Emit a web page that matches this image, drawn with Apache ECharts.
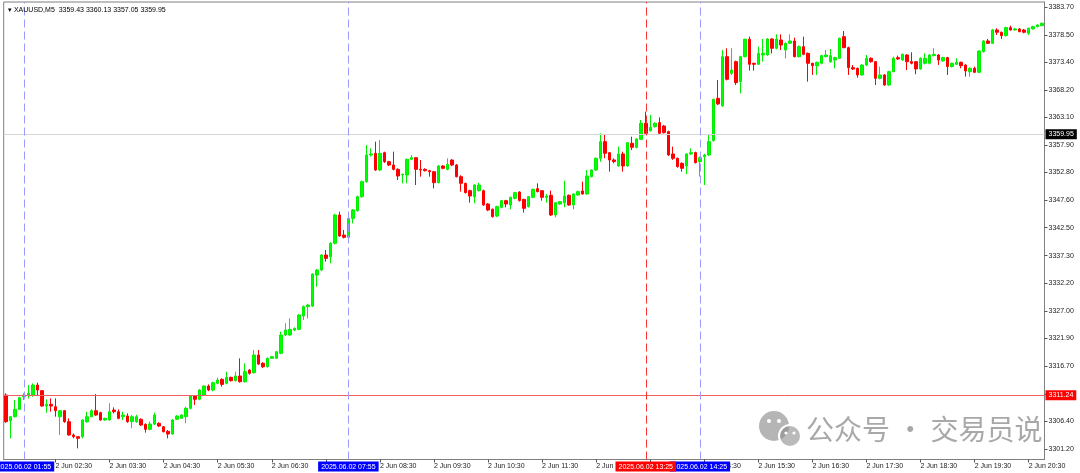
<!DOCTYPE html>
<html><head><meta charset="utf-8">
<script src="https://cdn.jsdelivr.net/npm/echarts@6/dist/echarts.min.js"></script>
<style>html,body{margin:0;padding:0;background:#fff}#c{width:1080px;height:473px}</style>
</head><body><div id="c"></div>
<script>
const startMinutes = 95; // 01:35
const candleCount = 231;
const opens = [
3311.28,3306.50,3307.24,3308.61,3310.97,3311.15,3311.28,3313.15,3312.10,3309.23,
3309.54,3309.10,3307.24,3308.36,3306.31,3303.82,3303.51,3303.51,3306.31,3307.24,
3308.36,3307.99,3306.62,3306.62,3308.48,3308.17,3307.24,3307.37,3306.31,3306.31,
3306.75,3305.81,3304.88,3305.87,3306.00,3305.37,3304.50,3304.00,3306.75,3306.93,
3307.24,3308.80,3311.10,3310.48,3311.28,3312.96,3312.22,3313.46,3314.21,3313.46,
3314.58,3313.96,3314.83,3313.77,3315.95,3315.45,3318.75,3317.20,3316.57,3318.13,
3318.13,3319.06,3322.48,3322.48,3323.41,3323.54,3326.03,3327.77,3327.89,3333.68,
3334.61,3337.41,3337.10,3339.59,3344.88,3341.14,3340.71,3344.25,3345.69,3348.30,
3351.10,3356.07,3356.39,3353.27,3356.51,3354.83,3354.21,3353.40,3352.34,3352.34,
3355.27,3355.58,3353.40,3353.40,3353.15,3352.96,3350.91,3354.02,3353.40,3355.14,
3354.21,3352.03,3350.79,3349.42,3348.30,3349.42,3349.42,3346.93,3345.94,3344.69,
3346.31,3347.56,3346.75,3347.99,3349.17,3347.80,3346.44,3348.18,3349.79,3349.42,
3348.18,3348.55,3344.88,3346.93,3347.18,3348.55,3346.75,3348.61,3349.36,3348.80,
3352.03,3353.28,3355.46,3358.57,3356.51,3355.15,3354.03,3356.27,3354.03,3358.26,
3357.51,3359.00,3361.99,3360.62,3361.37,3362.12,3361.49,3360.44,3356.27,3355.46,
3354.52,3354.03,3356.27,3356.52,3354.84,3355.77,3356.08,3358.76,3366.66,3365.23,
3374.43,3371.32,3373.50,3369.77,3374.43,3377.67,3373.19,3373.00,3374.74,3374.74,
3377.73,3375.99,3377.54,3375.67,3376.92,3377.35,3374.43,3376.30,3375.05,3373.19,
3372.75,3373.19,3374.43,3373.50,3373.81,3374.12,3378.16,3376.11,3372.38,3372.25,
3371.01,3372.87,3374.12,3373.50,3370.39,3371.01,3369.14,3371.63,3374.25,3373.81,
3374.74,3373.50,3373.50,3372.13,3373.19,3373.19,3374.62,3374.74,3373.63,3374.25,
3372.57,3373.00,3373.38,3372.88,3371.63,3372.26,3371.51,3375.37,3377.36,3376.92,
3379.41,3378.98,3378.35,3379.85,3379.41,3379.60,3379.41,3378.79,3379.60,3380.03,
3380.22];
const highs = [
3311.60,3307.30,3310.35,3310.97,3311.60,3313.15,3313.46,3313.60,3312.22,3310.47,
3310.66,3310.66,3308.48,3308.48,3306.93,3304.10,3303.60,3306.75,3308.17,3308.61,
3311.47,3308.17,3307.05,3309.73,3308.98,3308.61,3308.17,3307.86,3307.55,3307.60,
3306.93,3306.00,3306.31,3307.99,3306.20,3305.50,3304.75,3306.80,3307.50,3307.70,
3309.10,3311.30,3311.28,3312.40,3313.10,3313.27,3313.77,3314.50,3314.40,3315.64,
3314.70,3315.64,3318.13,3317.20,3316.10,3319.68,3319.68,3317.40,3318.30,3318.60,
3319.50,3323.10,3324.66,3325.59,3323.90,3326.40,3328.00,3328.30,3334.00,3334.80,
3337.60,3338.34,3339.80,3345.10,3345.50,3342.08,3344.50,3346.00,3348.50,3351.30,
3357.94,3357.32,3358.56,3358.87,3356.70,3355.00,3356.70,3353.60,3352.60,3355.40,
3356.07,3355.70,3355.14,3353.60,3353.30,3353.10,3354.20,3354.20,3355.45,3355.30,
3354.40,3352.30,3350.90,3349.60,3350.60,3350.91,3349.60,3347.10,3346.10,3346.60,
3347.70,3347.70,3348.30,3349.20,3349.30,3347.90,3348.40,3349.80,3350.79,3349.50,
3348.80,3349.42,3347.30,3347.50,3351.29,3348.70,3348.90,3349.40,3351.10,3353.28,
3353.40,3355.60,3360.12,3359.81,3356.60,3355.46,3357.64,3356.70,3358.50,3359.50,
3359.20,3362.61,3364.17,3363.55,3362.20,3363.11,3361.70,3360.60,3357.64,3355.60,
3354.70,3356.40,3357.33,3356.70,3355.80,3356.30,3359.80,3366.60,3370.08,3375.68,
3375.99,3375.99,3373.70,3374.60,3377.80,3378.17,3373.30,3376.30,3377.73,3377.90,
3377.90,3378.60,3378.60,3377.10,3378.60,3377.98,3376.50,3378.16,3375.20,3373.30,
3373.50,3374.80,3375.67,3375.86,3374.40,3378.00,3379.22,3376.30,3372.87,3372.40,
3373.00,3374.74,3374.30,3373.60,3372.56,3371.20,3371.80,3374.43,3374.62,3375.00,
3374.90,3375.24,3373.60,3374.30,3375.05,3374.90,3375.99,3374.90,3374.40,3374.40,
3373.30,3374.12,3373.50,3373.00,3372.40,3372.57,3375.60,3377.50,3377.73,3379.60,
3379.72,3379.10,3380.00,3380.22,3379.80,3379.75,3379.60,3379.85,3380.20,3380.50,
3380.80];
const lows = [
3306.10,3303.20,3307.10,3308.50,3310.35,3310.66,3310.97,3311.10,3309.10,3307.99,
3308.17,3307.24,3303.82,3306.10,3303.70,3303.20,3301.33,3303.20,3306.10,3307.10,
3307.40,3306.50,3306.50,3306.50,3307.86,3306.75,3306.62,3306.10,3305.07,3306.10,
3305.50,3304.26,3304.70,3305.69,3305.30,3304.30,3303.20,3303.90,3306.60,3306.80,
3306.00,3308.60,3309.42,3310.30,3311.10,3312.00,3312.00,3313.30,3312.84,3313.27,
3313.80,3313.80,3313.60,3313.60,3315.10,3315.30,3316.90,3316.30,3316.40,3318.00,
3318.00,3318.90,3322.30,3322.30,3323.20,3323.40,3325.28,3325.59,3327.70,3331.50,
3334.40,3336.17,3335.86,3339.40,3340.80,3340.50,3340.50,3343.32,3345.50,3348.10,
3350.90,3355.76,3353.10,3353.10,3354.60,3354.00,3353.20,3351.41,3350.79,3350.79,
3355.10,3350.48,3352.03,3353.00,3352.03,3349.85,3350.80,3353.40,3353.20,3354.00,
3351.90,3349.24,3348.90,3347.18,3347.06,3349.30,3346.60,3345.60,3344.40,3344.50,
3346.10,3346.31,3345.94,3347.80,3347.40,3345.32,3346.30,3348.00,3349.10,3347.56,
3347.18,3344.70,3344.44,3346.80,3346.31,3346.60,3345.94,3348.50,3348.70,3348.70,
3351.90,3353.10,3354.83,3355.46,3352.97,3354.52,3353.90,3352.97,3353.90,3357.00,
3357.30,3358.90,3360.00,3360.44,3361.20,3360.00,3360.10,3355.90,3355.15,3353.70,
3352.97,3352.50,3356.10,3354.50,3352.04,3350.48,3355.90,3358.60,3365.40,3365.10,
3370.00,3371.00,3369.15,3367.59,3374.30,3371.82,3371.82,3372.90,3373.50,3374.60,
3375.05,3375.80,3375.67,3374.12,3376.80,3374.30,3374.30,3374.70,3369.76,3371.01,
3371.01,3373.00,3374.30,3373.30,3372.25,3374.00,3376.00,3371.01,3371.94,3370.51,
3370.90,3372.70,3373.30,3369.14,3370.20,3369.00,3369.00,3371.50,3373.81,3373.70,
3371.94,3373.00,3371.14,3372.00,3373.00,3373.00,3374.50,3372.88,3373.50,3371.01,
3372.40,3372.90,3372.26,3370.70,3370.70,3371.40,3371.40,3375.20,3376.80,3376.80,
3378.48,3377.73,3378.20,3379.30,3379.30,3378.98,3378.80,3378.48,3379.50,3379.90,
3380.10];
const closes = [
3306.31,3307.24,3308.61,3310.79,3311.28,3311.60,3313.15,3312.22,3309.23,3309.54,
3309.23,3308.36,3308.36,3306.31,3303.82,3303.51,3303.20,3306.62,3307.24,3308.36,
3307.55,3306.62,3306.93,3308.17,3308.17,3306.93,3307.55,3306.31,3307.24,3307.24,
3305.69,3304.88,3305.87,3307.55,3305.50,3304.44,3304.00,3306.62,3307.36,3307.55,
3308.80,3311.10,3310.48,3312.22,3312.96,3312.22,3313.59,3314.08,3313.27,3314.58,
3313.96,3314.83,3313.77,3315.64,3315.33,3318.75,3317.07,3316.57,3318.13,3318.44,
3319.37,3322.48,3323.41,3323.54,3323.73,3326.21,3327.77,3328.08,3333.87,3334.61,
3337.41,3336.79,3339.59,3344.88,3340.96,3340.71,3344.25,3345.81,3348.30,3351.10,
3356.07,3356.26,3353.27,3356.39,3354.83,3354.21,3353.40,3352.16,3352.47,3355.27,
3355.58,3353.40,3353.27,3353.15,3352.96,3350.91,3354.02,3353.59,3354.33,3354.21,
3352.03,3350.79,3349.05,3348.43,3350.48,3350.48,3346.75,3345.81,3344.57,3346.44,
3347.56,3346.93,3348.18,3349.05,3347.56,3346.12,3348.30,3349.67,3349.24,3348.18,
3348.43,3344.88,3347.18,3347.37,3348.43,3346.75,3348.80,3349.24,3348.80,3352.16,
3353.28,3355.46,3358.57,3356.39,3355.14,3354.84,3356.27,3354.03,3358.38,3357.51,
3359.07,3361.99,3360.12,3361.25,3361.99,3360.12,3360.25,3356.08,3355.46,3353.90,
3353.59,3356.27,3356.52,3354.65,3355.58,3356.08,3358.57,3366.47,3365.60,3374.43,
3370.20,3371.94,3369.58,3374.43,3377.67,3373.00,3373.00,3375.05,3375.05,3377.73,
3375.99,3377.73,3376.60,3376.92,3377.35,3374.43,3376.30,3374.87,3373.19,3372.75,
3373.37,3374.62,3374.74,3374.62,3374.24,3377.85,3376.11,3372.38,3372.13,3371.01,
3372.87,3374.12,3373.50,3370.39,3371.01,3369.14,3371.63,3374.12,3374.00,3374.87,
3373.50,3373.19,3372.13,3374.12,3374.12,3374.74,3374.87,3373.81,3374.25,3372.57,
3373.19,3373.38,3372.75,3371.76,3372.26,3371.51,3375.49,3377.36,3376.92,3379.41,
3378.98,3378.35,3379.85,3379.41,3379.60,3379.10,3378.98,3379.72,3380.03,3380.34,
3380.65];
const priceTicks = [3301.20,3306.40,3311.50,3316.70,3321.90,3327.00,3332.20,3337.30,3342.50,3347.60,3352.80,3357.90,3363.10,3368.20,3373.40,3378.50,3383.70];
const bidPrice = 3359.95;
const levelPrice = 3311.24;
const vLines = [
  {time:'01:55', label:'2025.06.02 01:55', color:'#9a9aff', bg:'#0000ff'},
  {time:'07:55', label:'2025.06.02 07:55', color:'#9a9aff', bg:'#0000ff'},
  {time:'14:25', label:'2025.06.02 14:25', color:'#9a9aff', bg:'#0000ff'},
  {time:'13:25', label:'2025.06.02 13:25', color:'#ff3030', bg:'#ff0000'}
];
const titleText = '▾ XAUUSD,M5  3359.43 3360.13 3357.05 3359.95';

const times = [];
for (let i = 0; i < candleCount; i++) {
  const m = startMinutes + 5 * i;
  const h = Math.floor(m / 60), mm = m % 60;
  times.push(String(h).padStart(2,'0') + ':' + String(mm).padStart(2,'0'));
}
const kdata = opens.map((o, i) => [o, closes[i], lows[i], highs[i]]);
const FONT = 'Liberation Sans';
const isHalfHour = (idx, v) => v.endsWith(':30');

const chart = echarts.init(document.getElementById('c'), null, {renderer:'canvas'});
chart.setOption({
  animation: false,
  backgroundColor: '#ffffff',
  title: {text: titleText, left: 3, top: 2, textStyle:{fontSize:7, fontWeight:'normal', color:'#000', fontFamily:FONT}},
  grid: {left: 3.7, right: 35.5, top: 2, bottom: 13.5, show: true, borderColor: '#7f7f7f', borderWidth: 1},
  xAxis: {
    type: 'category', data: times, boundaryGap: true,
    axisLine: {show: true, lineStyle:{color:'#7f7f7f'}},
    axisTick: {show: true, alignWithLabel: true, interval: isHalfHour, length: 3, lineStyle:{color:'#555'}},
    axisLabel: {interval: isHalfHour, formatter: v => '2 Jun ' + v, align: 'left', margin: 3,
      fontSize: 7, color: '#222', fontFamily: FONT},
    splitLine: {show: false}
  },
  yAxis: {
    type: 'value', position: 'right', min: 3299.25, max: 3384.63, scale: true,
    axisLine: {show: true, lineStyle:{color:'#7f7f7f'}},
    axisTick: {show: true, customValues: priceTicks, length: 3, lineStyle:{color:'#555'}},
    axisLabel: {customValues: priceTicks, formatter: v => v.toFixed(2), margin: 4,
      fontSize: 7, color: '#222', fontFamily: FONT},
    splitLine: {show: false}
  },
  series: [{
    type: 'candlestick', data: kdata, barWidth: 3, clip: false,
    itemStyle: {color: '#00ff00', color0: '#ff0000', borderColor: '#00ee00', borderColor0: '#ff0000', borderWidth: 1},
    markLine: {
      silent: true, symbol: ['none','none'], animation: false,
      data: [
        {yAxis: bidPrice, lineStyle:{color:'#d6d6d6', type:'solid', width:1},
          label:{show:true, position:'end', distance:1, formatter: bidPrice.toFixed(2), color:'#fff', backgroundColor:'#000', padding:[2,3,1,3], fontSize:7, fontFamily:FONT}},
        {yAxis: levelPrice, lineStyle:{color:'#f06060', type:'solid', width:1},
          label:{show:true, position:'end', distance:1, formatter: levelPrice.toFixed(2), color:'#fff', backgroundColor:'#ff0000', padding:[2,3,1,3], fontSize:7, fontFamily:FONT}}
      ].concat(vLines.map(v => ({
        xAxis: v.time,
        lineStyle: {color: v.color, type: [8,4], width: 1},
        label: {show: true, position: 'start', distance: 2, formatter: v.label, color: '#fff', backgroundColor: v.bg, padding:[2,3,1,3], fontSize: 7, fontFamily: FONT}
      })))
    }
  }],
  graphic: [
    {type:'circle', shape:{cx:774, cy:426, r:15}, style:{fill:'rgba(120,120,120,0.55)'}, z:100},
    {type:'circle', shape:{cx:790, cy:436, r:11}, style:{fill:'rgba(140,140,140,0.6)', stroke:'#fff', lineWidth:2}, z:101},
    {type:'circle', shape:{cx:769, cy:421, r:2}, style:{fill:'#fff'}, z:102},
    {type:'circle', shape:{cx:779, cy:421, r:2}, style:{fill:'#fff'}, z:102},
    {type:'circle', shape:{cx:786, cy:433, r:1.6}, style:{fill:'#fff'}, z:102},
    {type:'circle', shape:{cx:794, cy:433, r:1.6}, style:{fill:'#fff'}, z:102},
    {type:'text', left: 806, top: 415, z: 100,
      style:{text:'公众号 · 交易员说', font:'28px "Noto Sans CJK SC"', fill:'rgba(110,110,110,0.6)'}}
  ]
});
</script></body></html>
